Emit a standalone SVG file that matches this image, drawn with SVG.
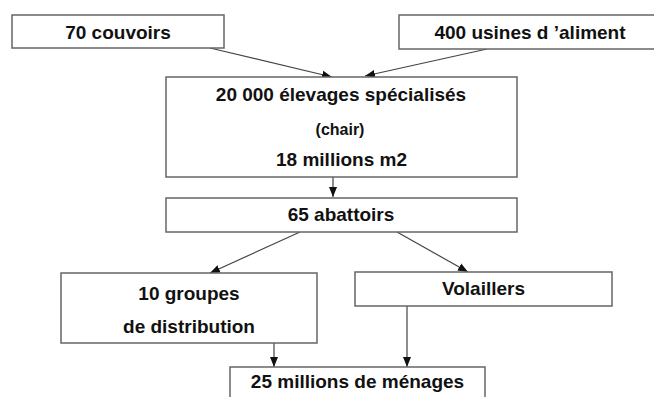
<svg xmlns="http://www.w3.org/2000/svg" width="654" height="397" viewBox="0 0 654 397">
<style>
.box{fill:#fff;stroke:#666;stroke-width:1.5}
.t{font-family:"Liberation Sans",Arial,sans-serif;font-weight:bold;font-size:19px;fill:#111;text-anchor:middle}
.s{font-size:16px}
.c{stroke:#444;stroke-width:1.2;fill:none;marker-end:url(#ah)}
</style>
<defs>
<marker id="ah" markerUnits="userSpaceOnUse" markerWidth="10" markerHeight="10" viewBox="0 0 10 10" refX="10" refY="5" orient="auto">
<path d="M0,1 L10,5 L0,9 Z" fill="#111"/>
</marker>
</defs>
<rect width="654" height="397" fill="#fff"/>
<g id="connectors">
<line class="c" x1="210" y1="48" x2="332" y2="77"/>
<line class="c" x1="487" y1="49" x2="365" y2="76"/>
<line class="c" x1="333" y1="177" x2="333" y2="197"/>
<line class="c" x1="300" y1="232" x2="210" y2="273"/>
<line class="c" x1="397" y1="232" x2="468" y2="272"/>
<line class="c" x1="274" y1="343" x2="274" y2="367"/>
<line class="c" x1="407" y1="306" x2="407" y2="367"/>
</g>
<g id="couvoirs">
<rect class="box" x="12" y="15" width="212" height="33"/>
<text class="t" x="118" y="38.5">70 couvoirs</text>
</g>
<g id="usines">
<rect class="box" x="399" y="15" width="260" height="34"/>
<text class="t" x="530" y="38.5">400 usines d ’aliment</text>
</g>
<g id="elevages">
<rect class="box" x="166" y="77" width="351" height="100"/>
<text class="t" x="341" y="101">20 000 élevages spécialisés</text>
<text class="t s" x="340" y="134.5">(chair)</text>
<text class="t" x="341.5" y="166">18 millions m2</text>
</g>
<g id="abattoirs">
<rect class="box" x="166" y="198" width="351" height="34"/>
<text class="t" x="341" y="221">65 abattoirs</text>
</g>
<g id="groupes">
<rect class="box" x="61" y="273" width="256" height="70"/>
<text class="t" x="189" y="299.5">10 groupes</text>
<text class="t" x="189" y="333">de distribution</text>
</g>
<g id="volaillers">
<rect class="box" x="355" y="272" width="257" height="34"/>
<text class="t" x="483.5" y="294.5">Volaillers</text>
</g>
<g id="menages">
<rect class="box" x="230" y="367" width="255" height="40"/>
<text class="t" x="357.5" y="388">25 millions de ménages</text>
</g>
</svg>
